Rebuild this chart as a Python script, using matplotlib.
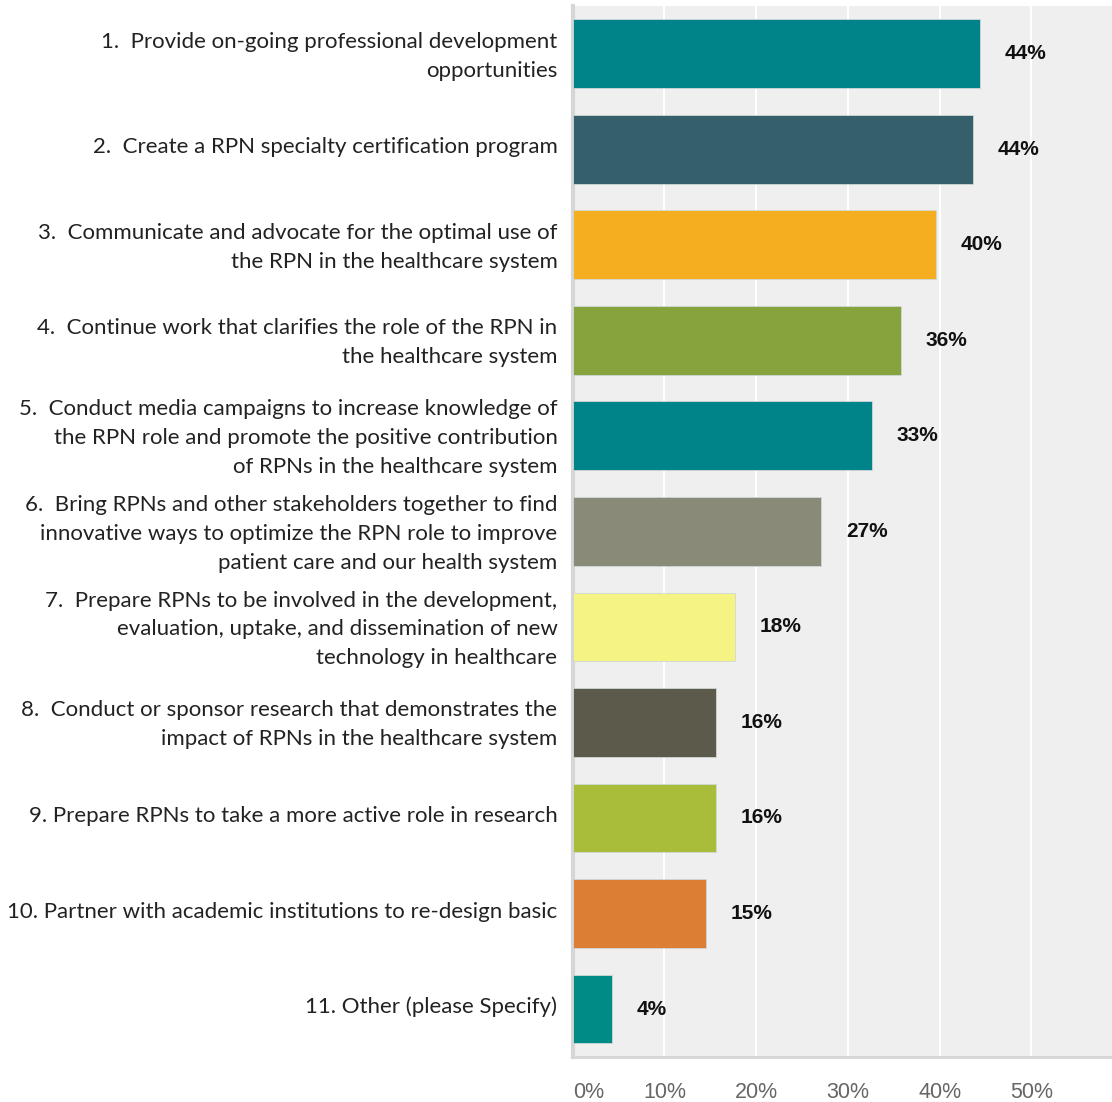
import matplotlib.pyplot as plt
import matplotlib.transforms as mtransforms
from matplotlib.ticker import FuncFormatter

labels = [
    "1.  Provide on-going professional development\nopportunities",
    "2.  Create a RPN specialty certification program",
    "3.  Communicate and advocate for the optimal use of\nthe RPN in the healthcare system",
    "4.  Continue work that clarifies the role of the RPN in\nthe healthcare system",
    "5.  Conduct media campaigns to increase knowledge of\nthe RPN role and promote the positive contribution\nof RPNs in the healthcare system",
    "6.  Bring RPNs and other stakeholders together to find\ninnovative ways to optimize the RPN role to improve\npatient care and our health system",
    "7.  Prepare RPNs to be involved in the development,\nevaluation, uptake, and dissemination of new\ntechnology in healthcare",
    "8.  Conduct or sponsor research that demonstrates the\nimpact of RPNs in the healthcare system",
    "9. Prepare RPNs to take a more active role in research",
    "10. Partner with academic institutions to re-design basic",
    "11. Other (please Specify)",
]
values = [44.4, 43.6, 39.6, 35.8, 32.6, 27.1, 17.7, 15.6, 15.6, 14.5, 4.3]
value_labels = ["44%", "44%", "40%", "36%", "33%", "27%", "18%", "16%", "16%", "15%", "4%"]
colors = ["#00848a", "#365f6c", "#f5ae20", "#86a33d", "#00848a", "#8a8a78",
          "#f6f385", "#5b5a4b", "#aabd3a", "#dd7e35", "#008b87"]

fig = plt.figure(figsize=(11.12, 11.02), dpi=100)
ax = fig.add_axes([0.515, 0.041, 0.485, 0.9536])
ax.set_facecolor("#efefef")

pos = list(range(len(values)))
ax.barh(pos, values, height=0.72, color=colors, edgecolor="#cfd8d8", linewidth=0.6, zorder=3)

# value labels to the right of each bar
for p, v, t in zip(pos, values, value_labels):
    ax.text(v + 2.7, p, t, va="center", ha="left", fontsize=15, fontweight="bold",
            family="Liberation Sans", color="#111111", zorder=4)

ax.set_xlim(0, 58.8)
ax.set_ylim(len(values) - 0.5, -0.5)
ax.set_xticks([0, 10, 20, 30, 40, 50])
ax.xaxis.set_major_formatter(FuncFormatter(lambda x, _: f"{x:.0f}%"))
ax.grid(axis="x", color="white", linewidth=1.5, zorder=1)
ax.tick_params(axis="x", length=0, pad=18, labelsize=15.5, labelcolor="#666666")
for lab in ax.get_xticklabels():
    lab.set_family("Liberation Sans")
ax.get_xticklabels()[0].set_horizontalalignment("left")

ax.set_yticks(pos)
ax.set_yticklabels(labels, fontsize=16, family="Lato", color="#222222", linespacing=1.55)
ax.tick_params(axis="y", length=0, pad=11)
# labels sit a few pixels above bar centres in the original
shift = mtransforms.ScaledTranslation(0, 4 / 100, fig.dpi_scale_trans)
for lab in ax.get_yticklabels():
    lab.set_transform(lab.get_transform() + shift)

for s in ["top", "right"]:
    ax.spines[s].set_visible(False)
ax.spines["left"].set_color("#d6d6d6")
ax.spines["left"].set_linewidth(3)
ax.spines["bottom"].set_color("#d6d6d6")
ax.spines["bottom"].set_linewidth(2)

fig.savefig("out.png", dpi=100)
